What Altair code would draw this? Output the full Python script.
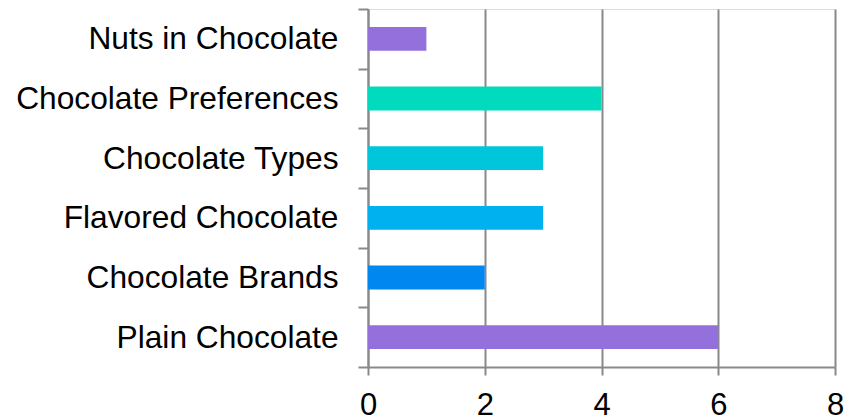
import altair as alt
import pandas as pd

# Survey topics, top to bottom, with their counts
categories = [
    "Nuts in Chocolate",
    "Chocolate Preferences",
    "Chocolate Types",
    "Flavored Chocolate",
    "Chocolate Brands",
    "Plain Chocolate",
]
counts = [1, 4, 3, 3, 2, 6]
bar_colors = ["#9370DB", "#00DBBE", "#00C6DC", "#00B1EF", "#0087F0", "#9370DB"]

df = pd.DataFrame({"topic": categories, "count": counts})

GRAY = "#898989"
FONT = "Liberation Sans"

chart = (
    alt.Chart(df)
    .mark_bar(height=alt.RelativeBandSize(0.4))
    .encode(
        y=alt.Y(
            "topic:N",
            sort=categories,
            title=None,
            scale=alt.Scale(paddingInner=0, paddingOuter=0),
            axis=alt.Axis(
                tickBand="extent",
                grid=False,
                domainColor=GRAY,
                domainWidth=2,
                tickColor=GRAY,
                tickWidth=2,
                tickSize=10,
                labelPadding=20,
                labelFont=FONT,
                labelFontSize=31.7,
                labelColor="#000000",
                labelLimit=400,
            ),
        ),
        x=alt.X(
            "count:Q",
            title=None,
            scale=alt.Scale(domain=[0, 8], nice=False),
            axis=alt.Axis(
                values=[0, 2, 4, 6, 8],
                grid=True,
                gridColor=GRAY,
                gridWidth=2,
                domainColor=GRAY,
                domainWidth=2,
                tickColor=GRAY,
                tickWidth=2,
                tickSize=8,
                labelPadding=15,
                labelFont=FONT,
                labelFontSize=31,
                labelColor="#000000",
                labelFlush=False,
            ),
        ),
        color=alt.Color(
            "topic:N",
            scale=alt.Scale(domain=categories, range=bar_colors),
            legend=None,
        ),
    )
    .properties(
        width=467,
        height=358,
        autosize=alt.AutoSizeParams(type="none"),
        padding={"left": 368, "top": 9, "right": 11, "bottom": 53},
    )
    .configure_view(stroke=None)
    .configure(background="#ffffff")
)

chart.save("out.html", embed_options={"renderer": "svg", "actions": False})
